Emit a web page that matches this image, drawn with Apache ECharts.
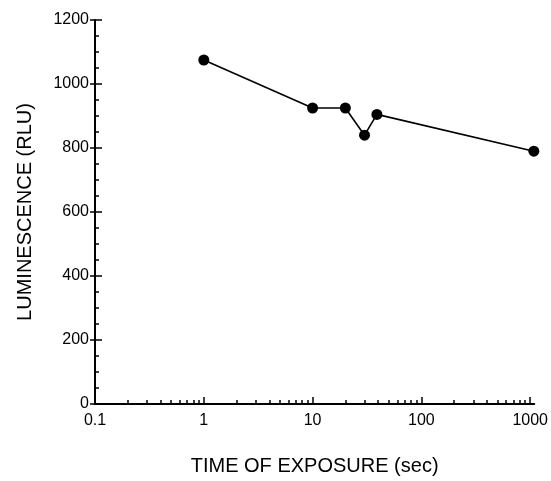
<!DOCTYPE html>
<html>
<head>
<meta charset="utf-8">
<script src="https://cdn.jsdelivr.net/npm/echarts@6/dist/echarts.min.js"></script>
<style>html,body{margin:0;padding:0;background:#fff;}#c{width:551px;height:481px;}</style>
</head>
<body>
<div id="c"></div>
<script>
// Data
var exposureTimes = [1, 10, 20, 30, 39, 1080];       // seconds
var luminescence  = [1075, 925, 925, 840, 905, 790];  // RLU
var xMajorTicks = [0.1, 1, 10, 100, 1000];
var xMinorTicks = [0.2,0.3,0.4,0.5,0.6,0.7,0.8,0.9, 2,3,4,5,6,7,8,9, 20,30,40,50,60,70,80,90, 200,300,400,500,600,700,800,900];
var yTickLabels = [0, 200, 400, 600, 800, 1000, 1200];

var seriesData = exposureTimes.map(function (t, i) { return [t, luminescence[i]]; });
var FONT = 'Liberation Sans, Arial, sans-serif';
var X_MAX = 1090;

var chart = echarts.init(document.getElementById('c'), null, {renderer: 'canvas'});
chart.setOption({
  animation: false,
  backgroundColor: '#fff',
  grid: {left: 95, right: 11, top: 20, bottom: 75, containLabel: false},
  xAxis: [
    {
      type: 'log', logBase: 10, min: 0.1, max: X_MAX, position: 'bottom',
      axisLine: {show: true, lineStyle: {color: '#000', width: 2}},
      axisTick: {show: true, inside: true, length: 7, lineStyle: {color: '#000', width: 1.5}, customValues: xMajorTicks},
      axisLabel: {show: true, margin: 9, color: '#000', fontSize: 16, fontFamily: FONT, customValues: xMajorTicks,
        formatter: function (v) { return String(v); }},
      splitLine: {show: false},
      name: 'TIME OF EXPOSURE (sec)', nameLocation: 'middle', nameGap: 52,
      nameTextStyle: {color: '#000', fontSize: 20, fontFamily: FONT}
    },
    {
      type: 'log', logBase: 10, min: 0.1, max: X_MAX, position: 'bottom',
      axisLine: {show: false},
      axisTick: {show: true, inside: true, length: 4, lineStyle: {color: '#000', width: 1.5}, customValues: xMinorTicks},
      axisLabel: {show: false},
      splitLine: {show: false}
    }
  ],
  yAxis: [
    {
      type: 'value', min: 0, max: 1200, interval: 200, position: 'left',
      axisLine: {show: true, lineStyle: {color: '#000', width: 2}},
      axisTick: {show: true, inside: true, length: 7, lineStyle: {color: '#000', width: 1.5}},
      minorTick: {show: true, splitNumber: 4, length: 4, lineStyle: {color: '#000', width: 1.5}},
      axisLabel: {show: true, margin: 6, color: '#000', fontSize: 16, fontFamily: FONT, customValues: yTickLabels,
        formatter: function (v) { return String(v); }},
      splitLine: {show: false},
      name: 'LUMINESCENCE (RLU)', nameLocation: 'middle', nameGap: 60,
      nameTextStyle: {color: '#000', fontSize: 20, fontFamily: FONT}
    },
    {
      type: 'value', min: 0, max: 1200, interval: 200, position: 'left',
      axisLine: {show: false},
      axisTick: {show: true, inside: false, length: 5, lineStyle: {color: '#000', width: 1.5}},
      axisLabel: {show: false},
      splitLine: {show: false}
    }
  ],
  series: [{
    type: 'line', xAxisIndex: 0, yAxisIndex: 0,
    data: seriesData,
    clip: false,
    symbol: 'circle', symbolSize: 11,
    itemStyle: {color: '#000'},
    lineStyle: {color: '#000', width: 1.6}
  }]
});
</script>
</body>
</html>
